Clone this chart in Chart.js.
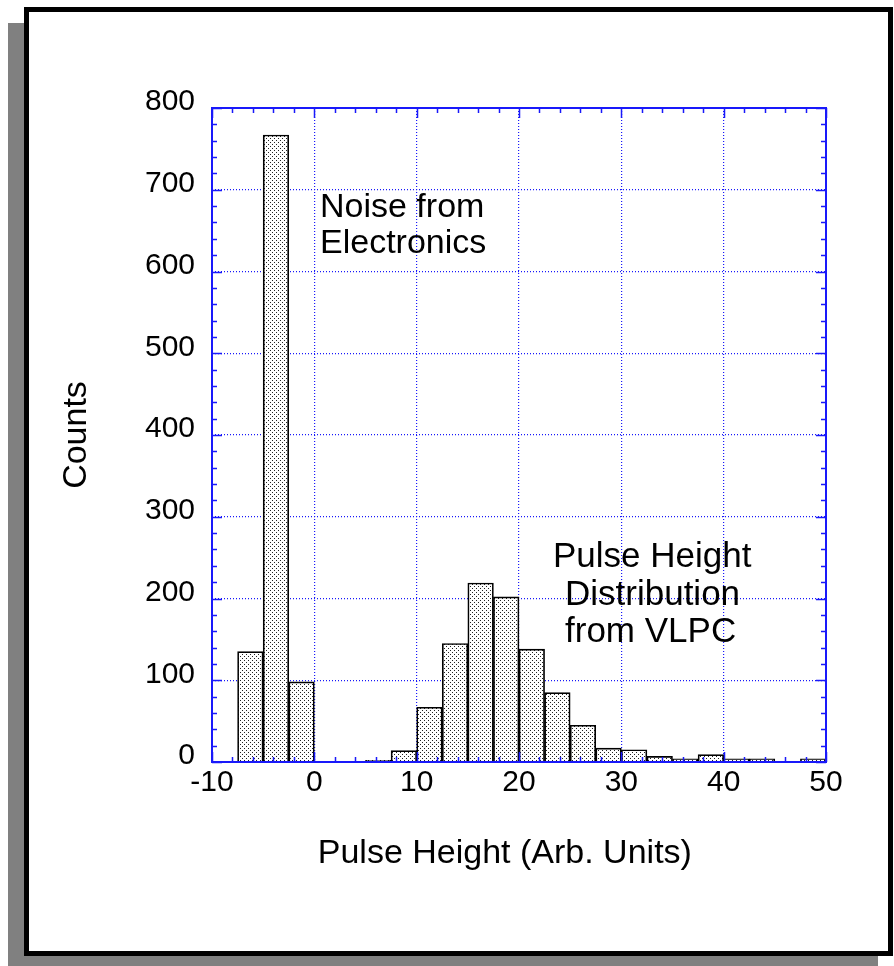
<html lang="en">
<head>
<meta charset="UTF-8" />
<title>Pulse Height Distribution</title>
<script src="https://cdn.jsdelivr.net/npm/chart.js@4"></script>
<style>
  body { margin: 0; width: 894px; height: 966px; overflow: hidden; background: #fff; position: relative; }
  .shadow { position: absolute; left: 8px; top: 23px; width: 870px; height: 943px; background: #808080; }
  .frame { position: absolute; left: 24px; top: 7px; width: 859px; height: 939px; border: 5px solid #000; background: #fff; }
  canvas { position: absolute; left: 0; top: 0; }
</style>
</head>
<body>
<div class="shadow"></div>
<div class="frame"></div>
<canvas id="hist" width="894" height="966"></canvas>

<script>
// histogram bins, width 2.5 units
const binCenters = [-6.25, -3.75, -1.25, 1.25, 3.75, 6.25, 8.75, 11.25, 13.75, 16.25, 18.75,
  21.25, 23.75, 26.25, 28.75, 31.25, 33.75, 36.25, 38.75, 41.25, 43.75, 46.25, 48.75];
const counts = [135, 767, 98, null, null, 2, 14, 67, 145, 219, 202,
  138, 85, 45, 17, 15, 7, 4, 9, 4, 4, null, 4];

const xTicks = [-10, 0, 10, 20, 30, 40, 50];
const yTicks = [0, 100, 200, 300, 400, 500, 600, 700, 800];

const noiseLabel = ["Noise from", "Electronics"];
const vlpcLabel = ["Pulse Height", "Distribution", "from VLPC"];

const FONT = "'Liberation Sans', Arial, Helvetica, sans-serif";
const BLUE = "rgb(25, 25, 250)";

// stipple fill like the original plot
function makeStipple() {
  const tile = document.createElement("canvas");
  tile.width = 4;
  tile.height = 4;
  const t = tile.getContext("2d");
  t.fillStyle = "#fff";
  t.fillRect(0, 0, 4, 4);
  t.fillStyle = "#222";
  t.fillRect(0, 0, 1, 1);
  t.fillRect(2, 2, 1, 1);
  return t.createPattern(tile, "repeat");
}

const ctx = document.getElementById("hist").getContext("2d");

// box around plot area with inward major/minor ticks
const boxPlugin = {
  id: "box",
  afterDatasetsDraw(chart) {
    const { ctx, chartArea: a, scales } = chart;
    const x = scales.x, y = scales.y;
    ctx.save();
    ctx.strokeStyle = BLUE;
    ctx.lineWidth = 1.5;
    ctx.beginPath();
    for (let v = -10; v <= 50; v += 2) {
      const px = Math.round(x.getPixelForValue(v)) + 0.5;
      const len = v % 10 === 0 ? 10 : 5;
      ctx.moveTo(px, a.bottom); ctx.lineTo(px, a.bottom - len);
      ctx.moveTo(px, a.top); ctx.lineTo(px, a.top + len);
    }
    for (let v = 0; v <= 800; v += 20) {
      const py = Math.round(y.getPixelForValue(v)) + 0.5;
      const len = v % 100 === 0 ? 10 : 5;
      ctx.moveTo(a.left, py); ctx.lineTo(a.left + len, py);
      ctx.moveTo(a.right, py); ctx.lineTo(a.right - len, py);
    }
    ctx.stroke();
    ctx.lineWidth = 2;
    ctx.strokeRect(a.left, a.top, a.right - a.left, a.bottom - a.top);
    ctx.restore();
  },
  afterDraw(chart) {
    const { ctx } = chart;
    ctx.save();
    ctx.fillStyle = "#000";
    ctx.textBaseline = "alphabetic";
    ctx.font = "34px " + FONT;
    ctx.fillText(noiseLabel[0], 320, 217);
    ctx.fillText(noiseLabel[1], 320, 253);
    ctx.font = "35px " + FONT;
    ctx.fillText(vlpcLabel[0], 553, 567);
    ctx.fillText(vlpcLabel[1], 565, 605);
    ctx.fillText(vlpcLabel[2], 565, 642);
    ctx.restore();
  },
};

new Chart(ctx, {
  type: "bar",
  data: {
    datasets: [{
      data: binCenters.map((c, i) => ({ x: c, y: counts[i] })),
      backgroundColor: makeStipple(),
      borderColor: "#000",
      borderWidth: 1.7,
      barPercentage: 1,
      categoryPercentage: 1,
    }],
  },
  options: {
    responsive: false,
    animation: false,
    devicePixelRatio: 1,
    layout: { padding: { top: 108, right: 68, left: 0, bottom: 0 } },
    plugins: { legend: { display: false }, tooltip: { enabled: false } },
    scales: {
      x: {
        type: "linear",
        min: -10,
        max: 50,
        offset: false,
        afterFit: (s) => { s.height = 204; },
        afterBuildTicks: (s) => { s.ticks = xTicks.map((v) => ({ value: v })); },
        grid: { offset: false, color: BLUE, lineWidth: 1.2, drawTicks: false },
        border: { display: false, dash: [1, 2] },
        ticks: { color: "#000", font: { family: FONT, size: 30 }, padding: 3, maxRotation: 0 },
        title: {
          display: true,
          // trailing spaces nudge the centred title left like the original
          text: "Pulse Height (Arb. Units)   ",
          color: "#000",
          font: { family: FONT, size: 34 },
          padding: { top: 0, bottom: 92 },
        },
      },
      y: {
        min: 0,
        max: 800,
        afterFit: (s) => { s.width = 212; },
        afterBuildTicks: (s) => { s.ticks = yTicks.map((v) => ({ value: v })); },
        grid: { color: BLUE, lineWidth: 1.2, drawTicks: false },
        border: { display: false, dash: [1, 2] },
        ticks: { color: "#000", font: { family: FONT, size: 30 }, padding: 17, labelOffset: -6 },
        title: {
          display: true,
          text: "Counts",
          color: "#000",
          font: { family: FONT, size: 34 },
          padding: { top: 56, bottom: 0 },
        },
      },
    },
  },
  plugins: [boxPlugin],
});
</script>
</body>
</html>
